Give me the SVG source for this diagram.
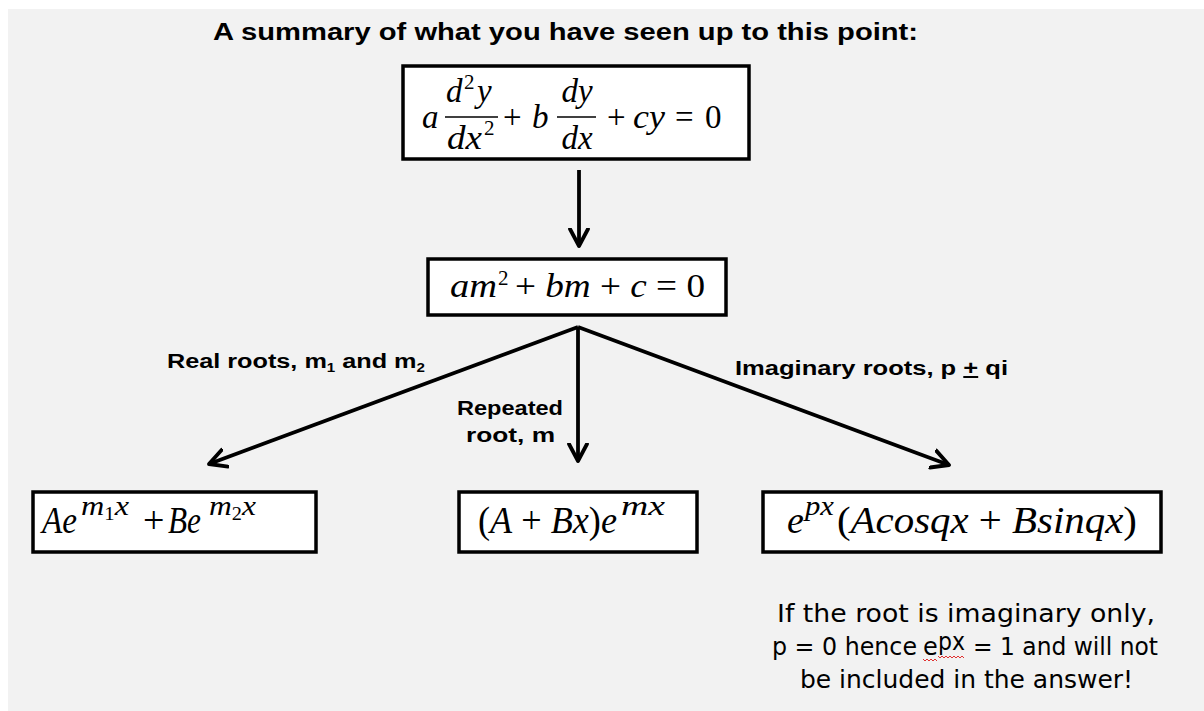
<svg xmlns="http://www.w3.org/2000/svg" width="1204" height="711" viewBox="0 0 1204 711">
<defs>
<style>
.bg{fill:#f2f2f2}
.box{fill:#ffffff;stroke:#000;stroke-width:3.5}
.m{font-family:"Liberation Serif","DejaVu Serif",serif;font-style:italic;fill:#000}
.m1{font-size:33px}
.m2{font-size:33px}
.m3{font-size:38px}
.s1{font-size:21px;font-style:normal}
.s3{font-size:28px}
.u{font-style:normal}
.bar{stroke:#000;stroke-width:1.6}
.conn{stroke:#000;stroke-width:3.8;fill:none;marker-end:url(#arr)}
.lbl{font-family:"Liberation Sans","DejaVu Sans",sans-serif;font-weight:bold;font-size:20px;fill:#000}
.title{font-family:"Liberation Sans","DejaVu Sans",sans-serif;font-weight:bold;font-size:23px;fill:#000}
.note{font-family:"DejaVu Sans","Liberation Sans",sans-serif;font-size:24px;fill:#000}
</style>
<marker id="arr" markerUnits="userSpaceOnUse" markerWidth="24" markerHeight="24" refX="18" refY="10" viewBox="0 0 24 20" orient="auto">
<path d="M1,1 L18,10 L1,19" fill="none" stroke="#000" stroke-width="3.8" stroke-linecap="round" stroke-linejoin="round"/>
</marker>
</defs>
<rect x="0" y="0" width="1204" height="711" fill="#ffffff"/>
<rect class="bg" x="8" y="9" width="1196" height="702"/>
<text class="title" x="213" y="40" textLength="705" lengthAdjust="spacingAndGlyphs">A summary of what you have seen up to this point:</text>

<g id="connectors">
<line class="conn" x1="579" y1="170" x2="579" y2="246"/>
<line class="conn" x1="578" y1="327" x2="209" y2="464"/>
<line class="conn" x1="578" y1="327" x2="578" y2="461"/>
<line class="conn" x1="578" y1="327" x2="949" y2="465"/>
</g>

<g id="ode">
<rect class="box" x="403" y="66" width="346" height="93"/>
<text class="m m1" x="422" y="128">a</text>
<text class="m m1" x="446" y="102">d</text><text class="m s1" x="464" y="89">2</text><text class="m m1" x="477" y="102">y</text>
<line class="bar" x1="445" y1="117" x2="498" y2="117"/>
<text class="m m1" x="447" y="149" textLength="35" lengthAdjust="spacingAndGlyphs">dx</text><text class="m s1" x="484" y="135">2</text>
<text class="m m1 u" x="503" y="128">+</text>
<text class="m m1" x="532" y="128">b</text>
<text class="m m1" x="577" y="102" text-anchor="middle">dy</text>
<line class="bar" x1="557" y1="117" x2="596" y2="117"/>
<text class="m m1" x="577" y="149" text-anchor="middle">dx</text>
<text class="m m1 u" x="607" y="128">+</text>
<text class="m m1" x="633" y="128" textLength="32" lengthAdjust="spacingAndGlyphs">cy</text>
<text class="m m1 u" x="675" y="128">=</text>
<text class="m m1 u" x="705" y="128">0</text>
</g>

<g id="aux">
<rect class="box" x="428" y="259" width="298" height="56"/>
<text class="m m2" x="450" y="297" textLength="47" lengthAdjust="spacingAndGlyphs">am</text>
<text class="m s1" x="498" y="285">2</text>
<text class="m m2" x="515" y="297" textLength="190" lengthAdjust="spacingAndGlyphs"><tspan class="u">+ </tspan>bm<tspan class="u"> + </tspan>c<tspan class="u"> = 0</tspan></text>
</g>

<g id="labels">
<text class="lbl" x="167" y="368" textLength="258" lengthAdjust="spacingAndGlyphs">Real roots, m<tspan font-size="12" dy="4">1</tspan><tspan dy="-4"> and m</tspan><tspan font-size="12" dy="4">2</tspan></text>
<text class="lbl" x="457" y="415" textLength="106" lengthAdjust="spacingAndGlyphs">Repeated</text>
<text class="lbl" x="466" y="442" textLength="89" lengthAdjust="spacingAndGlyphs">root, m</text>
<text class="lbl" x="735" y="375" textLength="273" lengthAdjust="spacingAndGlyphs">Imaginary roots, p <tspan text-decoration="underline">+</tspan> qi</text>
</g>

<g id="real">
<rect class="box" x="33" y="492" width="283" height="60"/>
<text class="m m3" x="42" y="533" textLength="35" lengthAdjust="spacingAndGlyphs">Ae</text>
<text class="m s3" x="81" y="515" textLength="48" lengthAdjust="spacingAndGlyphs">m<tspan class="u" font-size="18" dy="5">1</tspan><tspan dy="-5">x</tspan></text>
<text class="m m3 u" x="143" y="533">+</text>
<text class="m m3" x="168" y="533" textLength="33" lengthAdjust="spacingAndGlyphs">Be</text>
<text class="m s3" x="209" y="515" textLength="47" lengthAdjust="spacingAndGlyphs">m<tspan class="u" font-size="18" dy="5">2</tspan><tspan dy="-5">x</tspan></text>
</g>

<g id="repeated">
<rect class="box" x="459" y="492" width="238" height="60"/>
<text class="m m3" x="478" y="533" textLength="139" lengthAdjust="spacingAndGlyphs"><tspan class="u">(</tspan>A<tspan class="u"> + </tspan>Bx<tspan class="u">)</tspan>e</text>
<text class="m s3" x="621" y="515" textLength="44" lengthAdjust="spacingAndGlyphs">mx</text>
</g>

<g id="imaginary">
<rect class="box" x="763" y="492" width="398" height="60"/>
<text class="m m3" x="787" y="533">e</text>
<text class="m s3" x="805" y="515" textLength="29" lengthAdjust="spacingAndGlyphs">px</text>
<text class="m m3" x="837" y="533" textLength="300" lengthAdjust="spacingAndGlyphs"><tspan class="u">(</tspan>Acosqx<tspan class="u"> + </tspan>Bsinqx<tspan class="u">)</tspan></text>
</g>

<g id="note">
<text class="note" x="777" y="622" textLength="378" lengthAdjust="spacingAndGlyphs">If the root is imaginary only,</text>
<text class="note" x="772" y="655" textLength="145" lengthAdjust="spacingAndGlyphs">p = 0 hence</text>
<text class="note" x="923" y="655">e</text>
<text class="note" font-size="15" x="938" y="650" textLength="27" lengthAdjust="spacingAndGlyphs">px</text>
<text class="note" x="973" y="655" textLength="185" lengthAdjust="spacingAndGlyphs">= 1 and will not</text>
<text class="note" x="800" y="688" textLength="333" lengthAdjust="spacingAndGlyphs">be included in the answer!</text>
<path d="M923,659 l2,2 l2,-2 l2,2 l2,-2 l2,2 l2,-2 l2,2 M938,656 l2,2 l2,-2 l2,2 l2,-2 l2,2 l2,-2 l2,2 l2,-2 l2,2 l2,-2 l2,2 l2,-2 l2,2" fill="none" stroke="#e03030" stroke-width="1"/>
</g>
</svg>
